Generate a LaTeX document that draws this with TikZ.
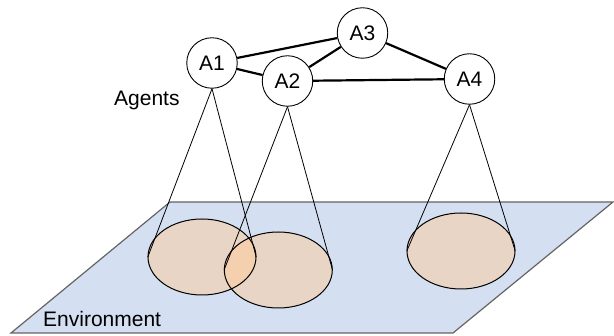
\documentclass[tikz,border=0pt]{standalone}
\usepackage{fontspec}
\setmainfont{Liberation Sans}
\usetikzlibrary{shapes.geometric}
\definecolor{envblue}{RGB}{212,224,242}
\definecolor{envline}{RGB}{100,100,100}
\definecolor{areaorange}{RGB}{255,204,153}
\begin{document}
\begin{tikzpicture}[x=1pt,y=-1pt,
  agent/.style={circle,draw=black,line width=0.9pt,fill=white,minimum size=50.5pt,inner sep=0pt,font=\fontsize{21}{25}\selectfont},
  link/.style={line width=2.2pt,black},
  view/.style={line width=0.8pt,black},
  areafill/.style={ellipse,fill=areaorange,fill opacity=0.5,minimum width=108pt,minimum height=76pt,inner sep=0pt},
  arealine/.style={ellipse,draw=black,line width=1pt,minimum width=108pt,minimum height=76pt,inner sep=0pt},
  env/.style={fill=envblue,draw=envline,line width=1.2pt},
  lbl/.style={font=\fontsize{21}{25}\selectfont,inner sep=0pt,anchor=base west}]
\useasboundingbox (0,0) rectangle (614,336);
% environment plane
\draw[env] (170,202) -- (613,202) -- (453,333) -- (11,333) -- cycle;
\node[lbl] (envlabel) at (43,327) {Environment};
% perception areas
\node[areafill] (e1) at (202,257) {};
\node[areafill] (e2) at (278.3,270) {};
\node[areafill] (e3) at (461,251) {};
\node[arealine] (e1o) at (e1.center) {};
\node[arealine] (e2o) at (e2.center) {};
\node[arealine] (e3o) at (e3.center) {};
% agents
\node[agent] (a1) at (212,63) {A1};
\node[agent] (a2) at (287.5,81) {A2};
\node[agent] (a3) at (362.5,33) {A3};
\node[agent] (a4) at (469.5,79) {A4};
\node[lbl] (agentslabel) at (114,106) {Agents};
% view cones
\draw[view] (a1.south) -- (e1.west);
\draw[view] (a1.south) -- (e1.east);
\draw[view] (a2.south) -- (e2.west);
\draw[view] (a2.south) -- (e2.east);
\draw[view] (a4.south) -- (e3.west);
\draw[view] (a4.south) -- (e3.east);
% communication links
\draw[link] (a1) -- (a3);
\draw[link] (a1) -- (a2);
\draw[link] (a2) -- (a3);
\draw[link] (a2) -- (a4);
\draw[link] (a3) -- (a4);
\end{tikzpicture}
\end{document}
